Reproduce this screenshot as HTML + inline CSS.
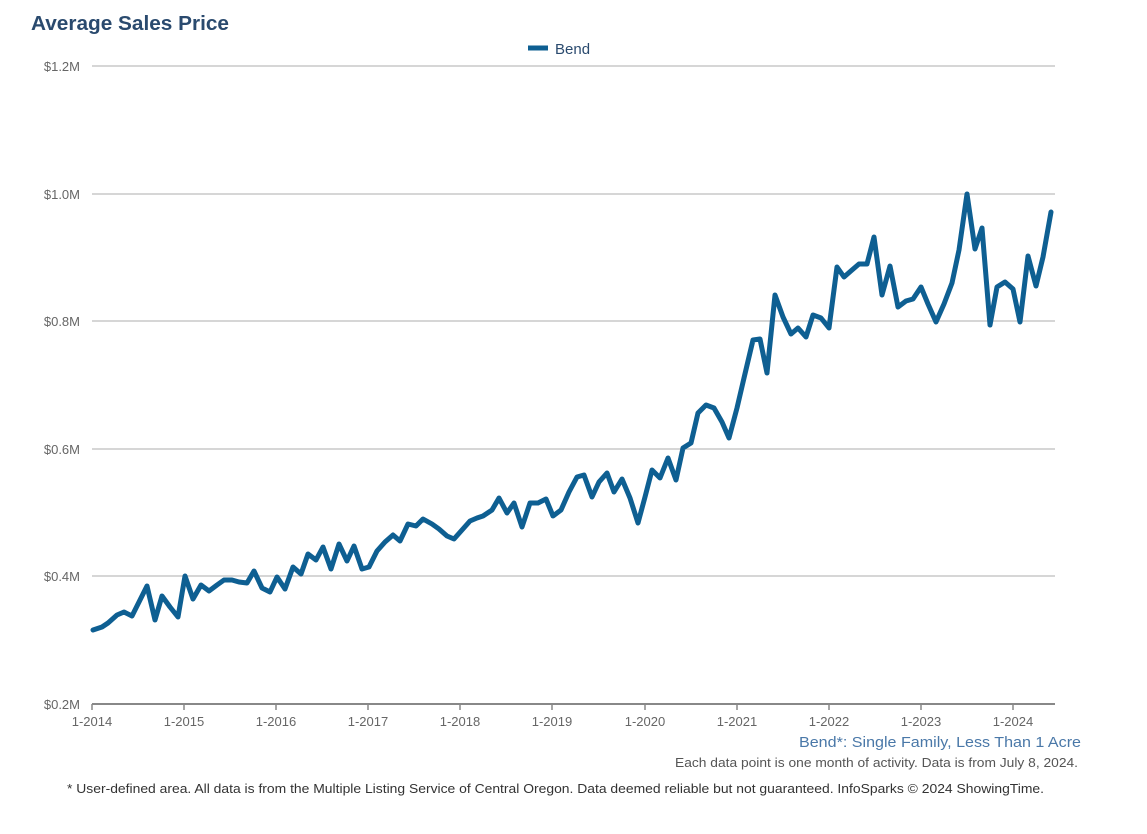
<!DOCTYPE html>
<html><head><meta charset="utf-8"><style>
body{margin:0;background:#fff;width:1147px;height:829px;overflow:hidden;font-family:"Liberation Sans",sans-serif}
</style></head><body>
<svg width="1147" height="829" xmlns="http://www.w3.org/2000/svg" font-family="Liberation Sans, sans-serif">
<text x="31" y="30" font-size="20" font-weight="bold" fill="#2a4a6e" textLength="198" lengthAdjust="spacingAndGlyphs">Average Sales Price</text>
<line x1="528" y1="48" x2="548" y2="48" stroke="#0e5f92" stroke-width="5"/>
<text x="555" y="54" font-size="15" fill="#2a4a6e">Bend</text>
<g stroke="#c8c8c8" stroke-width="1.5">
<line x1="92" y1="66" x2="1055" y2="66"/><line x1="92" y1="194" x2="1055" y2="194"/>
<line x1="92" y1="321" x2="1055" y2="321"/><line x1="92" y1="449" x2="1055" y2="449"/>
<line x1="92" y1="576" x2="1055" y2="576"/>
</g>
<line x1="92" y1="704" x2="1055" y2="704" stroke="#888" stroke-width="2"/>
<g stroke="#888" stroke-width="1.5">
<line x1="92" y1="704" x2="92" y2="710"/><line x1="184" y1="704" x2="184" y2="710"/><line x1="276" y1="704" x2="276" y2="710"/><line x1="368" y1="704" x2="368" y2="710"/><line x1="460" y1="704" x2="460" y2="710"/><line x1="552" y1="704" x2="552" y2="710"/><line x1="645" y1="704" x2="645" y2="710"/><line x1="737" y1="704" x2="737" y2="710"/><line x1="829" y1="704" x2="829" y2="710"/><line x1="921" y1="704" x2="921" y2="710"/><line x1="1013" y1="704" x2="1013" y2="710"/>
</g>
<g font-size="13" fill="#666" text-anchor="end">
<text x="80" y="71">$1.2M</text><text x="80" y="199">$1.0M</text><text x="80" y="326">$0.8M</text><text x="80" y="454">$0.6M</text><text x="80" y="581">$0.4M</text><text x="80" y="709">$0.2M</text>
</g>
<g font-size="13" fill="#666" text-anchor="middle">
<text x="92" y="726">1-2014</text><text x="184" y="726">1-2015</text><text x="276" y="726">1-2016</text><text x="368" y="726">1-2017</text><text x="460" y="726">1-2018</text><text x="552" y="726">1-2019</text><text x="645" y="726">1-2020</text><text x="737" y="726">1-2021</text><text x="829" y="726">1-2022</text><text x="921" y="726">1-2023</text><text x="1013" y="726">1-2024</text>
</g>
<polyline fill="none" stroke="#0e5f92" stroke-width="5" stroke-linejoin="round" stroke-linecap="round" points="93,630 102,627 108,623 117,615 124,612 132,616 140,600 147,586 155,620 162,596 170,607 178,617 185,576 193,599 201,585 209,591 217,585 224,580 232,580 239,582 247,583 254,571 262,588 270,592 277,577 285,589 293,567 301,574 308,554 316,560 323,547 331,569 339,544 347,561 354,546 362,569 369,567 377,551 385,542 393,535 400,541 408,524 416,526 423,519 432,524 439,529 447,536 454,539 462,530 470,521 477,518 483,516 492,510 499,498 507,513 514,503 522,527 530,503 538,503 546,499 553,516 561,510 569,492 577,477 584,475 592,497 599,482 607,473 614,492 622,479 630,498 638,523 645,497 652,470 660,478 668,458 676,480 683,448 691,443 698,413 706,405 714,408 722,422 729,438 737,408 744,378 753,340 760,339 767,373 775,295 783,317 791,334 798,328 806,337 813,315 821,318 829,328 837,267 844,277 852,270 859,264 867,264 874,237 882,295 890,266 898,307 906,301 913,299 921,287 928,304 936,322 944,304 952,283 959,250 967,194 975,249 982,228 990,325 997,287 1005,282 1013,289 1020,322 1028,256 1036,286 1043,257 1051,212"/>
<text x="1081" y="747" font-size="15" fill="#4a78a8" text-anchor="end" textLength="282" lengthAdjust="spacingAndGlyphs">Bend*: Single Family, Less Than 1 Acre</text>
<text x="1078" y="767" font-size="13" fill="#555" text-anchor="end" textLength="403" lengthAdjust="spacingAndGlyphs">Each data point is one month of activity. Data is from July 8, 2024.</text>
<text x="67" y="793" font-size="13" fill="#333" textLength="977" lengthAdjust="spacingAndGlyphs">* User-defined area. All data is from the Multiple Listing Service of Central Oregon. Data deemed reliable but not guaranteed. InfoSparks © 2024 ShowingTime.</text>
</svg>
</body></html>
